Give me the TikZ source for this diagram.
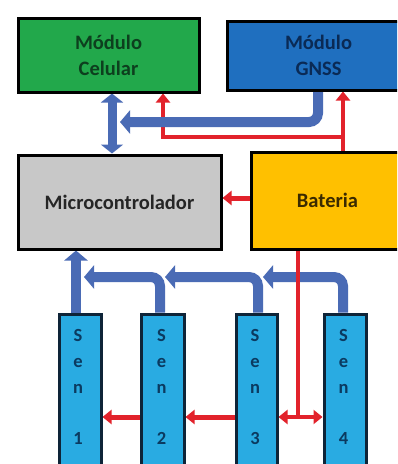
\documentclass[tikz,border=0pt]{standalone}
\usepackage{fontspec}
\setmainfont{Carlito}
\usetikzlibrary{arrows.meta,calc}
\definecolor{celgreen}{HTML}{22A84B}
\definecolor{celtext}{HTML}{0D3F1E}
\definecolor{gnssblue}{HTML}{1F6FBF}
\definecolor{gnsstext}{HTML}{0A2A55}
\definecolor{mcugray}{HTML}{C8C8C8}
\definecolor{mcutext}{HTML}{262626}
\definecolor{batyellow}{HTML}{FFC000}
\definecolor{battext}{HTML}{3A2A00}
\definecolor{senblue}{HTML}{29ABE2}
\definecolor{senedge}{HTML}{0E2438}
\definecolor{sentext}{HTML}{0B3A60}
\definecolor{busblue}{HTML}{4A6BB5}
\definecolor{pwrred}{HTML}{E2222B}
\pgfdeclarelayer{paper}
\pgfdeclarelayer{back}
\pgfsetlayers{paper,back,main}
\begin{document}
\begin{tikzpicture}[x=1pt,y=-1pt,
  box/.style={draw=black,line width=3pt,anchor=north west,inner sep=0pt,align=center,
    font=\fontsize{20.5}{26}\selectfont\bfseries},
  senbox/.style={draw=senedge,line width=3pt,fill=senblue,anchor=north west,inner sep=0pt,
    minimum height=180pt},
  sentxt/.style={align=center,text=sentext,inner sep=0pt,font=\fontsize{18.5}{25.75}\selectfont\bfseries},
  bus/.style={draw=busblue,line width=10pt,rounded corners=9pt,-{Triangle[width=23pt,length=10pt]}},
  busdbl/.style={draw=busblue,line width=9pt,{Triangle[width=22pt,length=9pt]}-{Triangle[width=22pt,length=9pt]}},
  pwr/.style={draw=pwrred,line width=4pt,-{Triangle[width=14pt,length=9pt]}},
  pwrdbl/.style={draw=pwrred,line width=4pt,{Triangle[width=14pt,length=9pt]}-{Triangle[width=14pt,length=9pt]}}
]
\useasboundingbox (0,0) rectangle (397,464);
\begin{pgfonlayer}{paper}
\fill[white] (0,0) rectangle (397,464);
\end{pgfonlayer}
\clip (0,0) rectangle (397,464);

% blocks
\node[box,fill=celgreen,text=celtext,minimum width=181pt,minimum height=74pt] (cel) at (16.5,16.5) {Módulo\\Celular};
\node[box,fill=gnssblue,text=gnsstext,minimum width=183pt,minimum height=69pt] (gnss) at (225.5,19.5) {Módulo\\GNSS};
\node[box,fill=mcugray,text=mcutext,minimum width=203pt,minimum height=94pt] (mcu) at (16.5,153.5) {Microcontrolador};
\node[box,fill=batyellow,text=battext,minimum width=153pt,minimum height=97pt] (bat) at (249.5,150.5) {Bateria};

% sensors
\node[senbox,minimum width=42pt] (s1) at (57.5,312.5) {};
\node[senbox,minimum width=43pt] (s2) at (139.5,312.5) {};
\node[senbox,minimum width=41pt] (s3) at (234.5,312.5) {};
\node[senbox,minimum width=42pt] (s4) at (322.5,312.5) {};
\node[sentxt] (t1) at (78,387) {S\\e\\n\\~\\1};
\node[sentxt] (t2) at (161.5,387) {S\\e\\n\\~\\2};
\node[sentxt] (t3) at (255,387) {S\\e\\n\\~\\3};
\node[sentxt] (t4) at (343.5,387) {S\\e\\n\\~\\4};

% helper coordinates
\coordinate (xa) at (112,0);
\coordinate (xg) at (318,0);
\coordinate (yg) at (0,122);
\coordinate (tipg) at (120,122);
\coordinate (xr1) at (163,0);
\coordinate (xr2) at (343,0);
\coordinate (yr) at (0,137);
\coordinate (ybm) at (0,198);
\coordinate (xbd) at (298,0);
\coordinate (ys) at (0,417);
\coordinate (ybus) at (0,277);
\coordinate (x1) at (76,0);
\coordinate (x2) at (160,0);
\coordinate (x3) at (258,0);
\coordinate (x4) at (343,0);
\coordinate (tip2) at (84,277);
\coordinate (tip3) at (165,277);
\coordinate (tip4) at (263,277);

\begin{pgfonlayer}{back}
% power, upper part
\draw[pwr] (bat.north -| xr2) -- (gnss.south -| xr2);
\draw[pwr] (xr2 |- yr) -- (xr1 |- yr) -- (cel.south -| xr1);
\draw[pwr,line width=5pt] (bat.west |- ybm) -- (mcu.east |- ybm);
% data
\draw[busdbl] (cel.south -| xa) -- (mcu.north -| xa);
\draw[bus] (gnss.south -| xg) -- (xg |- yg) -- (tipg);
\draw[bus] (s1.north -| x1) -- (mcu.south -| x1);
\draw[bus] (s2.north -| x2) -- (x2 |- ybus) -- (tip2);
\draw[bus] (s3.north -| x3) -- (x3 |- ybus) -- (tip3);
\draw[bus] (s4.north -| x4) -- (x4 |- ybus) -- (tip4);
% power, lower part
\draw[draw=pwrred,line width=4pt] (bat.south -| xbd) -- (xbd |- ys);
\draw[pwrdbl] (s3.east |- ys) -- (s4.west |- ys);
\draw[pwr,line width=5pt] (s3.west |- ys) -- (s2.east |- ys);
\draw[pwr,line width=5pt] (s2.west |- ys) -- (s1.east |- ys);
\end{pgfonlayer}
\end{tikzpicture}
\end{document}
